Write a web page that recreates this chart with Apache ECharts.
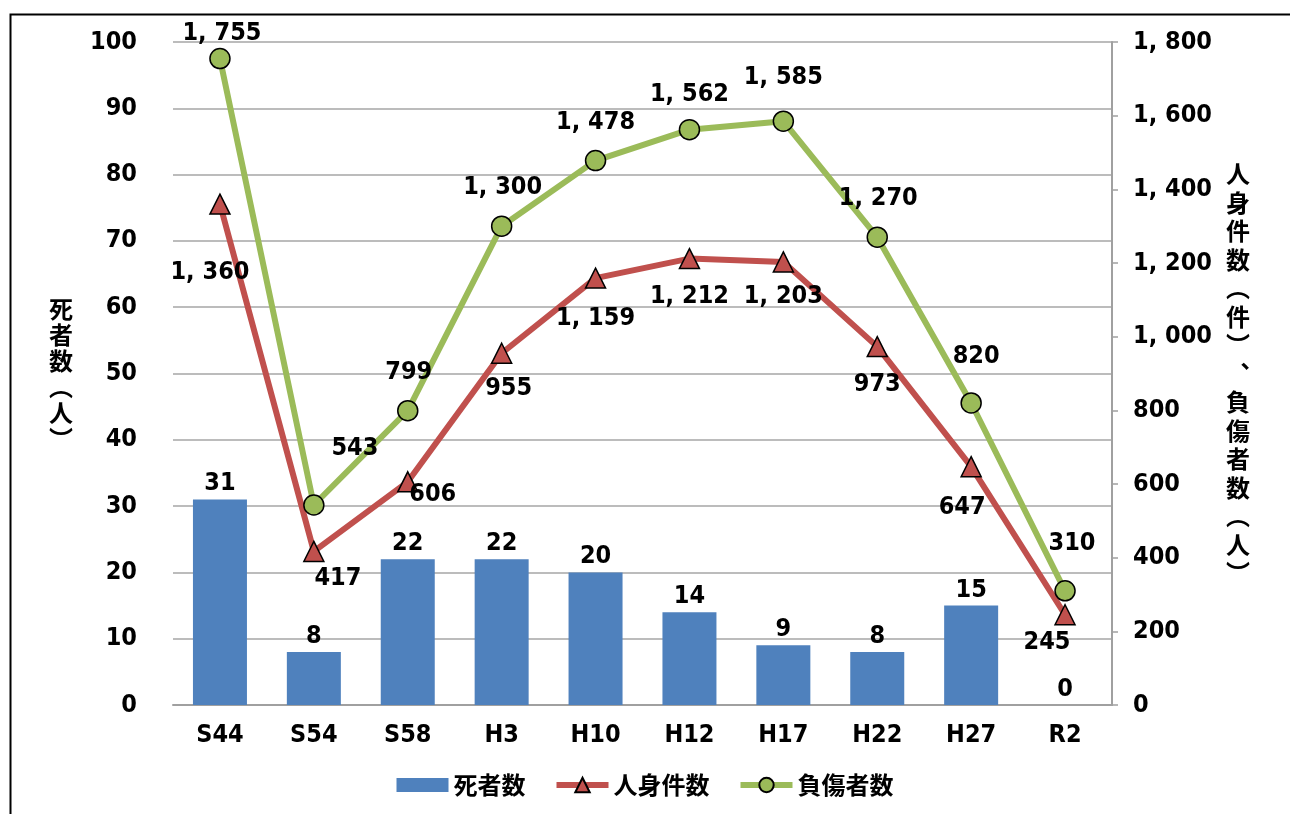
<!DOCTYPE html>
<html>
<head>
<meta charset="utf-8">
<script src="https://cdn.jsdelivr.net/npm/echarts@6/dist/echarts.min.js"></script>
<style>
  html, body { margin: 0; padding: 0; background: #fff; }
  #main { width: 1290px; height: 814px; }
</style>
</head>
<body>
<div id="main"></div>
<script>
// データ
const years = ["S44", "S54", "S58", "H3", "H10", "H12", "H17", "H22", "H27", "R2"];
const deaths = [31, 8, 22, 22, 20, 14, 9, 8, 15, 0];          // 死者数
const accidents = [1360, 417, 606, 955, 1159, 1212, 1203, 973, 647, 245];   // 人身件数
const injured = [1755, 543, 799, 1300, 1478, 1562, 1585, 1270, 820, 310];   // 負傷者数

// ラベルのずらし量（見た目の調整用）
const accOffsets = [[-10, 68], [24, 27], [25, 13], [7, 35], [0, 40], [0, 38], [0, 35], [0, 38], [-9, 41], [-18, 28]];
const injOffsets = [[2, -25], [41, -56], [1, -38], [1, -39], [0, -38], [0, -35], [0, -44], [1, -39], [5, -46], [7, -47]];

const numFont = "'Liberation Sans Narrow', 'DejaVu Sans Condensed', 'Noto Sans CJK JP', sans-serif";
const jpFont = "'Noto Sans CJK JP', sans-serif";

function fmt(v) {
  // 1,755 -> "1, 755"
  return String(v).replace(/\B(?=(\d{3})+(?!\d))/g, ", ");
}

const numLabel = {
  fontFamily: numFont,
  fontWeight: "bold",
  fontSize: 25,
  color: "#000"
};

let chart = echarts.init(document.getElementById("main"));

let option = {
  animation: false,
  backgroundColor: "#fff",
  graphic: [
    {
      type: "rect",
      left: 8,
      top: 12,
      shape: { width: 1300, height: 820 },
      style: { fill: "none", stroke: "#000", lineWidth: 2 },
      z: -1
    }
  ],
  grid: { left: 173, right: 178, top: 42, bottom: 109 },
  legend: {
    bottom: 12,
    left: "center",
    itemGap: 28,
    itemWidth: 52,
    itemHeight: 18,
    lineStyle: { width: 6 },
    textStyle: { fontFamily: jpFont, fontWeight: "bold", fontSize: 24, color: "#000" },
    data: [
      { name: "死者数", icon: "path://M0,0 L48,0 L48,13 L0,13 Z" },
      "人身件数",
      "負傷者数"
    ]
  },
  xAxis: {
    type: "category",
    data: years,
    axisLine: { lineStyle: { color: "#a0a0a0", width: 2 } },
    axisTick: { show: false },
    axisLabel: { margin: 18, ...numLabel }
  },
  yAxis: [
    {
      type: "value",
      min: 0,
      max: 100,
      interval: 10,
      name: "死\n者\n数\n︵\n人\n︶",
      nameLocation: "middle",
      nameRotate: 0,
      nameGap: 100,
      nameTextStyle: { fontFamily: jpFont, fontWeight: "bold", fontSize: 24, lineHeight: 26, color: "#000" },
      axisLine: { show: false },
      axisTick: { show: false },
      axisLabel: { margin: 36, ...numLabel },
      splitLine: { lineStyle: { color: "#a6a6a6", width: 1.5 } }
    },
    {
      type: "value",
      min: 0,
      max: 1800,
      interval: 200,
      position: "right",
      name: "人\n身\n件\n数\n︵\n件\n︶\n︑\n負\n傷\n者\n数\n︵\n人\n︶",
      nameLocation: "middle",
      nameRotate: 0,
      nameGap: 114,
      nameTextStyle: { fontFamily: jpFont, fontWeight: "bold", fontSize: 24, lineHeight: 28.5, color: "#000" },
      axisLine: { show: true, lineStyle: { color: "#a0a0a0", width: 2 } },
      axisTick: { show: true, length: 6, lineStyle: { color: "#a0a0a0", width: 1.5 } },
      axisLabel: { margin: 21, ...numLabel, formatter: fmt },
      splitLine: { show: false }
    }
  ],
  series: [
    {
      name: "死者数",
      type: "bar",
      yAxisIndex: 0,
      barWidth: 54,
      itemStyle: { color: "#4f81bd" },
      label: { show: true, position: "top", distance: 3, ...numLabel },
      data: deaths
    },
    {
      name: "人身件数",
      type: "line",
      yAxisIndex: 1,
      symbol: "triangle",
      symbolSize: 20,
      lineStyle: { color: "#c0504d", width: 6 },
      itemStyle: { color: "#c0504d", borderColor: "#000", borderWidth: 1.5 },
      z: 3,
      data: accidents.map((v, i) => ({
        value: v,
        label: { show: true, position: "inside", offset: accOffsets[i], formatter: p => fmt(p.value), ...numLabel }
      }))
    },
    {
      name: "負傷者数",
      type: "line",
      yAxisIndex: 1,
      symbol: "circle",
      symbolSize: 20,
      lineStyle: { color: "#9bbb59", width: 6 },
      itemStyle: { color: "#9bbb59", borderColor: "#000", borderWidth: 1.5 },
      z: 4,
      data: injured.map((v, i) => ({
        value: v,
        label: { show: true, position: "inside", offset: injOffsets[i], formatter: p => fmt(p.value), ...numLabel }
      }))
    }
  ]
};

chart.setOption(option);
</script>
</body>
</html>
